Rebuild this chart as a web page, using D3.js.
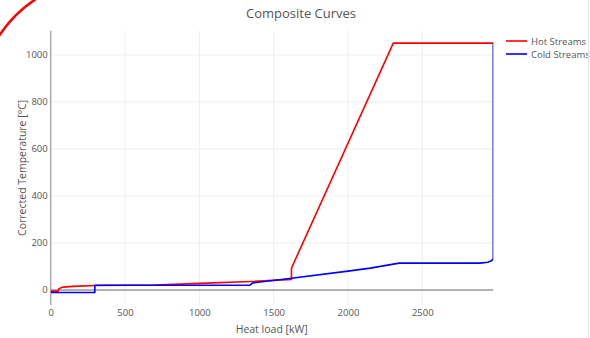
<!DOCTYPE html>
<html>
<head>
<meta charset="utf-8">
<script src="https://cdn.jsdelivr.net/npm/d3@7"></script>
<style>
  body { margin: 0; background: #fff; }
  svg { display: block; font-family: "Open Sans", sans-serif; }
</style>
</head>
<body>
<div id="chart"></div>
<script>
// composite curve points, [heat load kW, corrected temperature °C]
const hotLoad  = [0, 50, 55, 80, 150, 300, 700, 1000, 1350, 1620, 1620, 2305, 2978];
const hotTemp  = [-5, -5, 5, 12, 15, 19, 21, 28, 36, 45, 93, 1050, 1050];
const coldLoad = [0, 297, 297, 1340, 1360, 1620, 2000, 2150, 2345, 2890, 2940, 2965, 2978, 2978];
const coldTemp = [-11, -11, 20, 20, 30, 50, 80, 93, 114, 114, 118, 124, 132, 1050];
const xTicks = [0, 500, 1000, 1500, 2000, 2500];
const yTicks = [0, 200, 400, 600, 800, 1000];
const seriesNames = ["Hot Streams", "Cold Streams"];
const seriesColors = ["#ff0000", "#0000ff"];

const width = 590, height = 338;
const margin = {left: 50.7, right: 96.7, top: 30.7, bottom: 33};

const svg = d3.select("#chart").append("svg")
  .attr("width", width).attr("height", height);

// y padding like plotly autorange (5%)
const yMin = d3.min(coldTemp), yMax = d3.max(hotTemp);
const pad = (yMax - yMin) * 0.05;

const x = d3.scaleLinear().domain([0, d3.max(coldLoad)])
  .range([margin.left, width - margin.right]);
const y = d3.scaleLinear().domain([yMin - pad, yMax + pad])
  .range([height - margin.bottom, margin.top]);

// grid
svg.append("g").selectAll("line").data(xTicks.slice(1)).join("line")
  .attr("x1", d => x(d)).attr("x2", d => x(d))
  .attr("y1", y.range()[1]).attr("y2", y.range()[0])
  .attr("stroke", "#eee").attr("stroke-width", 1);
svg.append("g").selectAll("line").data(yTicks.slice(1)).join("line")
  .attr("x1", x.range()[0]).attr("x2", x.range()[1])
  .attr("y1", d => y(d)).attr("y2", d => y(d))
  .attr("stroke", "#eee").attr("stroke-width", 1);

// zero lines
svg.append("line")
  .attr("x1", x(0)).attr("x2", x(0))
  .attr("y1", y.range()[1]).attr("y2", y.range()[0])
  .attr("stroke", "#aaa").attr("stroke-width", 1.5);
svg.append("line")
  .attr("x1", x.range()[0]).attr("x2", x.range()[1])
  .attr("y1", y(0)).attr("y2", y(0))
  .attr("stroke", "#999").attr("stroke-width", 1.5);

// axes (labels only)
const xAxis = svg.append("g")
  .attr("transform", `translate(0,${height - margin.bottom})`)
  .call(d3.axisBottom(x).tickValues(xTicks).tickFormat(d3.format("d")).tickSize(0).tickPadding(4));
const yAxis = svg.append("g")
  .attr("transform", `translate(${margin.left},0)`)
  .call(d3.axisLeft(y).tickValues(yTicks).tickFormat(d3.format("d")).tickSize(0).tickPadding(3));
[xAxis, yAxis].forEach(g => {
  g.select(".domain").remove();
  g.selectAll("text").attr("fill", "#555").style("font-size", "9.5px")
    .style("font-family", "'Open Sans', sans-serif");
});

// clip to plot area
svg.append("clipPath").attr("id", "plot-clip").append("rect")
  .attr("x", x.range()[0]).attr("y", y.range()[1])
  .attr("width", x.range()[1] - x.range()[0])
  .attr("height", y.range()[0] - y.range()[1]);

const line = d3.line().x(d => x(d[0])).y(d => y(d[1]));
const hot = d3.zip(hotLoad, hotTemp);
const cold = d3.zip(coldLoad, coldTemp);

const plot = svg.append("g").attr("clip-path", "url(#plot-clip)");
[hot, cold].forEach((pts, i) => {
  plot.append("path").datum(pts)
    .attr("d", line)
    .attr("fill", "none")
    .attr("stroke", seriesColors[i])
    .attr("stroke-width", 1.6)
    .attr("stroke-linejoin", "round");
});

// title and axis titles
svg.append("text")
  .attr("x", 301).attr("y", 18)
  .attr("text-anchor", "middle")
  .attr("fill", "#555").style("font-size", "13px")
  .text("Composite Curves");
svg.append("text")
  .attr("x", x(1500) - 2).attr("y", 333)
  .attr("text-anchor", "middle")
  .attr("fill", "#555").style("font-size", "10.5px")
  .text("Heat load [kW]");
svg.append("text")
  .attr("transform", `translate(26,${(y.range()[0] + y.range()[1]) / 2}) rotate(-90)`)
  .attr("text-anchor", "middle")
  .attr("fill", "#555").style("font-size", "10.5px")
  .text("Corrected Temperature [°C]");

// legend
const legend = svg.append("g").attr("transform", "translate(506,41)");
seriesNames.forEach((name, i) => {
  const row = legend.append("g").attr("transform", `translate(0,${i * 13})`);
  row.append("line").attr("x1", 0).attr("x2", 21).attr("y1", 0).attr("y2", 0)
    .attr("stroke", seriesColors[i]).attr("stroke-width", 1.6);
  row.append("text").attr("x", 25).attr("y", 3.5)
    .attr("fill", "#555").style("font-size", "9.5px")
    .text(name);
});

// faint border at the right edge
svg.append("line")
  .attr("x1", 588.5).attr("x2", 588.5).attr("y1", 0).attr("y2", height)
  .attr("stroke", "#e6e6e6").attr("stroke-width", 1);

// red annotation arc in the top-left corner
svg.append("path")
  .attr("d", "M-3,39 A130,130 0 0,1 39,-3")
  .attr("fill", "none").attr("stroke", "#ff0000").attr("stroke-width", 2.5);
</script>
</body>
</html>
